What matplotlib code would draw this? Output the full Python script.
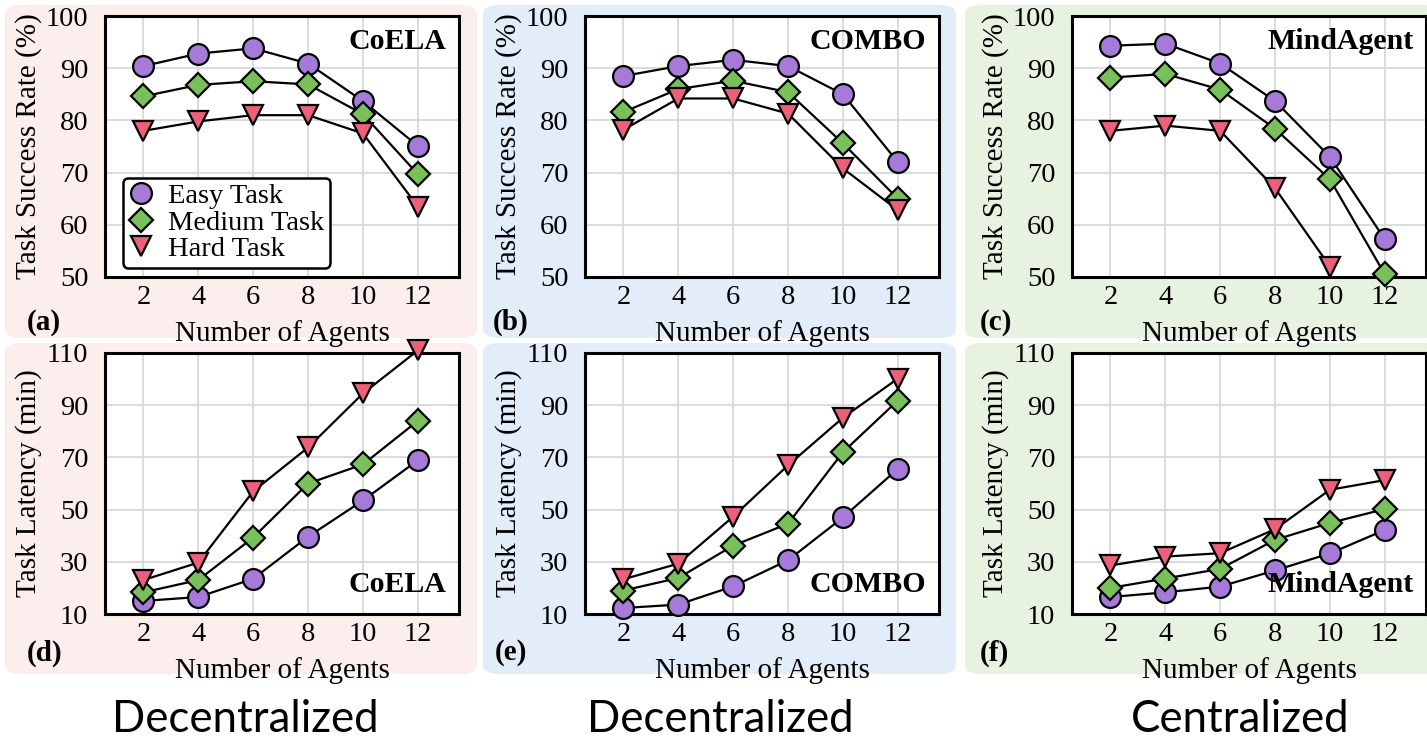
import numpy as np
import matplotlib
matplotlib.use("Agg")
import matplotlib.pyplot as plt
from matplotlib.patches import FancyBboxPatch

agents = [2, 4, 6, 8, 10, 12]
nan = np.nan

# task success rate (%)
coela_sr_easy = [90.4, 92.8, 93.8, 90.9, 83.7, 75.1]
coela_sr_medium = [84.6, 86.8, 87.5, 86.9, 81.2, 69.7]
coela_sr_hard = [78.0, 79.8, 81.0, 81.0, 77.5, 63.5]

combo_sr_easy = [88.5, 90.4, 91.6, 90.4, 85.0, 72.0]
combo_sr_medium = [81.6, 86.0, 87.6, 85.4, 75.6, 65.0]
combo_sr_hard = [78.2, 84.2, 84.2, 81.3, 70.8, 62.8]

mind_sr_easy = [94.3, 94.7, 90.9, 83.7, 73.0, 57.2]
mind_sr_medium = [88.2, 88.9, 85.9, 78.4, 68.7, 50.5]
mind_sr_hard = [78.0, 79.0, 78.0, 67.0, 52.0, nan]

# task latency (min)
coela_lat_easy = [15.0, 16.5, 23.5, 39.6, 53.5, 68.9]
coela_lat_medium = [18.3, 23.0, 39.3, 60.0, 67.3, 84.0]
coela_lat_hard = [23.0, 29.7, 57.0, 73.8, 94.5, 111.0]

combo_lat_easy = [12.3, 13.6, 20.6, 30.6, 47.0, 65.6]
combo_lat_medium = [19.0, 23.8, 36.2, 44.6, 72.0, 91.8]
combo_lat_hard = [23.3, 29.3, 47.3, 67.0, 85.2, 100.2]

mind_lat_easy = [16.5, 18.3, 20.5, 26.7, 33.2, 42.2]
mind_lat_medium = [20.0, 23.6, 27.3, 38.4, 44.9, 50.2]
mind_lat_hard = [28.6, 32.0, 33.3, 42.5, 57.6, 61.3]

methods = ["CoELA", "COMBO", "MindAgent"]
tags = ["(a)", "(b)", "(c)", "(d)", "(e)", "(f)"]
bottom_labels = ["Decentralized", "Decentralized", "Centralized"]
legend_labels = ["Easy Task", "Medium Task", "Hard Task"]

sr_data = [
    [coela_sr_easy, coela_sr_medium, coela_sr_hard],
    [combo_sr_easy, combo_sr_medium, combo_sr_hard],
    [mind_sr_easy, mind_sr_medium, mind_sr_hard],
]
lat_data = [
    [coela_lat_easy, coela_lat_medium, coela_lat_hard],
    [combo_lat_easy, combo_lat_medium, combo_lat_hard],
    [mind_lat_easy, mind_lat_medium, mind_lat_hard],
]

colors = ["#a67ad8", "#79c05b", "#ee6079"]
markers = ["o", "D", "v"]
msizes = [15, 12, 15]
panel_bg = ["#fbeeed", "#e2edf9", "#e8f2e0"]

W, H = 1427, 738
plt.rcParams["font.family"] = ["Liberation Serif", "DejaVu Serif"]

fig = plt.figure(figsize=(W / 100, H / 100), dpi=100)
fig.patch.set_facecolor("white")

# rounded panel backgrounds (pixels)
panel_x = [(5, 477), (483, 956), (965, 1440)]
panel_y = [(5, 338), (343, 674)]
for i, (px0, px1) in enumerate(panel_x):
    for (py0, py1) in panel_y:
        box = FancyBboxPatch((px0 / W, 1 - py1 / H), (px1 - px0) / W, (py1 - py0) / H,
                             boxstyle="round,pad=0,rounding_size=0.012",
                             transform=fig.transFigure, facecolor=panel_bg[i],
                             edgecolor="none", zorder=-10)
        fig.add_artist(box)

ax_left = [105, 585, 1072]
ax_w = 354
rows = [(16, 277), (353, 614)]


def style_axis(ax):
    ax.set_facecolor("white")
    for s in ax.spines.values():
        s.set_linewidth(2.2)
        s.set_color("black")
    ax.grid(True, color="#d9d9d9", linewidth=1.3)
    ax.set_axisbelow(True)
    ax.tick_params(length=0, labelsize=20.5, pad=6)
    ax.tick_params(axis="y", pad=12)
    ax.set_xlim(0.6, 13.5)
    ax.set_xticks(agents)


for r, (top, bot) in enumerate(rows):
    for c in range(3):
        ax = fig.add_axes([ax_left[c] / W, 1 - bot / H, ax_w / W, (bot - top) / H])
        style_axis(ax)
        series = sr_data[c] if r == 0 else lat_data[c]
        for k in range(3):
            ax.plot(agents, series[k], color="black", linewidth=1.6,
                    marker=markers[k], markersize=msizes[k],
                    markerfacecolor=colors[k], markeredgecolor="black",
                    markeredgewidth=1.6, clip_on=False, zorder=3 + k,
                    label=legend_labels[k])
        if r == 0:
            ax.set_ylim(50, 100)
            ax.set_yticks([50, 60, 70, 80, 90, 100])
            ax.set_ylabel("Task Success Rate (%)", fontsize=21)
            ax.text(0.965, 0.955, methods[c], transform=ax.transAxes, ha="right",
                    va="top", fontsize=21.5, fontweight="bold")
        else:
            ax.set_ylim(10, 110)
            ax.set_yticks([10, 30, 50, 70, 90, 110])
            ax.set_ylabel("Task Latency (min)", fontsize=21)
            ax.text(0.965, 0.06, methods[c], transform=ax.transAxes, ha="right",
                    va="bottom", fontsize=21.5, fontweight="bold")
        ax.yaxis.set_label_coords(-0.178, 0.5)
        ax.set_xlabel("Number of Agents", fontsize=21)
        ax.xaxis.set_label_coords(0.5, -0.165)
        if r == 0 and c == 0:
            leg = ax.legend(loc="lower left", bbox_to_anchor=(0.05, 0.035),
                            fontsize=20.5, frameon=True, fancybox=True,
                            edgecolor="black", framealpha=1,
                            handlelength=0.9, handletextpad=0.5,
                            labelspacing=0.02, borderpad=0.2, borderaxespad=0)
            leg.get_frame().set_linewidth(1.8)
            for h in leg.legend_handles:
                h.set_linestyle("none")

# panel tags
tag_pos = [(27, 322), (493, 322), (980, 322), (27, 653), (495, 653), (980, 653)]
for t, (tx, ty) in zip(tags, tag_pos):
    fig.text(tx / W, 1 - ty / H, t, fontsize=21, fontweight="bold",
             ha="left", va="center")

for lbl, cx in zip(bottom_labels, [245, 720, 1240]):
    fig.text(cx / W, 1 - 719 / H, lbl, fontsize=31.5, family=["Lato", "DejaVu Sans"],
             ha="center", va="center")

fig.savefig("out.png", dpi=100)
